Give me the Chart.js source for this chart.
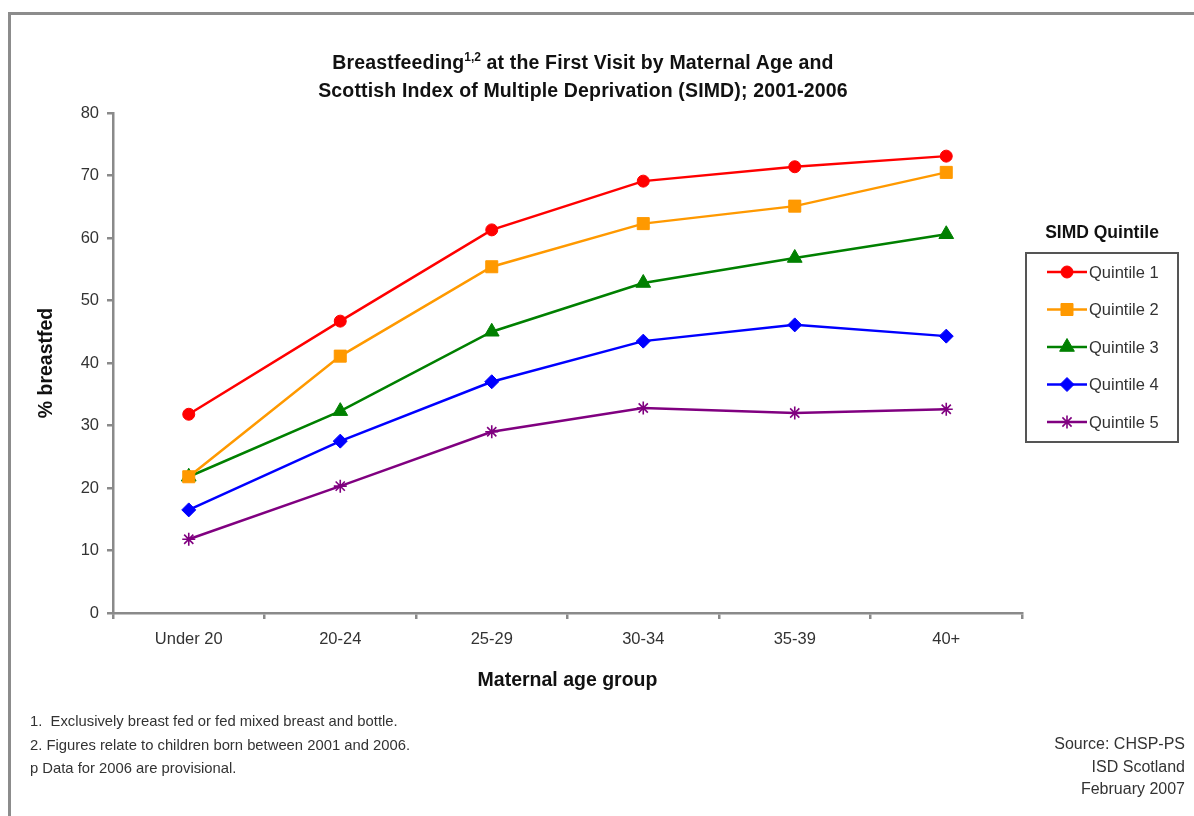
<!DOCTYPE html>
<html lang="en">
<head>
    <meta charset="UTF-8">
    <title>Breastfeeding at the First Visit by Maternal Age and SIMD</title>
    <script src="https://cdn.jsdelivr.net/npm/chart.js"></script>
    <style>
        body { margin: 0; width: 1194px; height: 816px; overflow: hidden; background: #fff; font-family: "Liberation Sans", Arial, sans-serif; color: #111; }
        .frame { position: absolute; left: 8px; top: 12px; width: 1400px; height: 1000px; border: 3px solid #8c8c8c; }
        canvas { position: absolute; left: 0; top: 0; }
        .title { position: absolute; left: 0; width: 1166px; top: 48px; text-align: center; font-weight: bold; font-size: 19.5px; letter-spacing: 0.15px; line-height: 28px; }
        .title sup { font-size: 12px; line-height: 0; vertical-align: 8px; letter-spacing: 0; }
        .legend-title { position: absolute; left: 1022px; width: 160px; top: 222px; text-align: center; font-weight: bold; font-size: 17.5px; }
        .notes { position: absolute; left: 30px; top: 710px; font-size: 14.8px; line-height: 23.5px; color: #333; }
        .source { position: absolute; right: 9px; top: 733px; font-size: 16px; line-height: 22.5px; text-align: right; color: #333; }
    </style>
</head>
<body>
    <div class="frame"></div>
    <canvas id="chart" width="1194" height="816"></canvas>
    <div class="title">Breastfeeding<sup>1,2</sup> at the First Visit by Maternal Age and<br>Scottish Index of Multiple Deprivation (SIMD); 2001-2006</div>
    <div class="legend-title">SIMD Quintile</div>
    <div class="notes">1.&nbsp; Exclusively breast fed or fed mixed breast and bottle.<br>2. Figures relate to children born between 2001 and 2006.<br>p Data for 2006 are provisional.</div>
    <div class="source">Source: CHSP-PS<br>ISD Scotland<br>February 2007</div>

    <script>
        // age groups and % breastfed per SIMD quintile
        const ageGroups = ["Under 20", "20-24", "25-29", "30-34", "35-39", "40+"];
        const quintile1 = [31.8, 46.7, 61.3, 69.1, 71.4, 73.1];
        const quintile2 = [21.8, 41.1, 55.4, 62.3, 65.1, 70.5];
        const quintile3 = [21.8, 32.3, 45.0, 52.8, 56.8, 60.6];
        const quintile4 = [16.5, 27.5, 37.0, 43.5, 46.1, 44.3];
        const quintile5 = [11.8, 20.3, 29.0, 32.8, 32.0, 32.6];
        const yTicks = [0, 10, 20, 30, 40, 50, 60, 70, 80];

        const fontFamily = '"Liberation Sans", Arial, sans-serif';
        const axisColor = '#8a8a8a';

        function series(label, data, color, style, radius) {
            return {
                label: label,
                data: data,
                borderColor: color,
                backgroundColor: color,
                borderWidth: 2.5,
                pointStyle: style,
                pointRadius: radius,
                pointHoverRadius: radius,
                pointBorderWidth: style === 'star' ? 1.6 : 1,
                tension: 0
            };
        }

        // Excel style legend: boxed, line with marker
        const boxedLegend = {
            id: 'boxedLegend',
            afterDraw(chart) {
                const ctx = chart.ctx;
                ctx.save();
                ctx.strokeStyle = '#555';
                ctx.lineWidth = 2;
                ctx.strokeRect(1026, 253, 152, 189);
                chart.data.datasets.forEach((ds, i) => {
                    const y = 272 + i * 37.5;
                    ctx.strokeStyle = ds.borderColor;
                    ctx.fillStyle = ds.backgroundColor;
                    ctx.lineWidth = 2.5;
                    ctx.beginPath();
                    ctx.moveTo(1047, y);
                    ctx.lineTo(1087, y);
                    ctx.stroke();
                    ctx.lineWidth = ds.pointBorderWidth;
                    Chart.helpers.drawPoint(ctx, {
                        pointStyle: ds.pointStyle,
                        radius: ds.pointRadius,
                        rotation: 0,
                        borderWidth: ds.pointBorderWidth
                    }, 1067, y);
                    ctx.fillStyle = '#333';
                    ctx.font = '16.5px ' + fontFamily;
                    ctx.textBaseline = 'middle';
                    ctx.fillText(ds.label, 1089, y + 1);
                });
                ctx.restore();
            }
        };

        const ctx = document.getElementById('chart').getContext('2d');
        new Chart(ctx, {
            type: 'line',
            data: {
                labels: ageGroups,
                datasets: [
                    series('Quintile 1', quintile1, '#ff0000', 'circle', 6),
                    series('Quintile 2', quintile2, '#ff9900', 'rect', 8.5),
                    series('Quintile 3', quintile3, '#008000', 'triangle', 8.5),
                    series('Quintile 4', quintile4, '#0000ff', 'rectRot', 7),
                    series('Quintile 5', quintile5, '#800080', 'star', 6.5)
                ]
            },
            options: {
                responsive: false,
                animation: false,
                layout: { padding: { left: 32, right: 172, top: 113, bottom: 113 } },
                plugins: {
                    legend: { display: false },
                    title: { display: false },
                    tooltip: { enabled: false }
                },
                scales: {
                    x: {
                        offset: true,
                        afterFit: s => { s.height = 90; },
                        grid: { offset: true, drawOnChartArea: false, drawTicks: true, tickLength: 6, color: axisColor, lineWidth: 2.5 },
                        border: { color: axisColor, width: 2.5 },
                        ticks: { padding: 11, color: '#333', font: { family: fontFamily, size: 16.5 } },
                        title: { display: true, text: 'Maternal age group', color: '#111', padding: { top: 0, bottom: 11 }, font: { family: fontFamily, size: 19.5, weight: 'bold' } }
                    },
                    y: {
                        min: 0,
                        max: 80,
                        afterFit: s => { s.width = 81; },
                        afterBuildTicks: s => { s.ticks = yTicks.map(v => ({ value: v })); },
                        grid: { drawOnChartArea: false, drawTicks: true, tickLength: 6, color: axisColor, lineWidth: 2.5 },
                        border: { color: axisColor, width: 2.5 },
                        ticks: { padding: 8, color: '#333', font: { family: fontFamily, size: 16.5 } },
                        title: { display: true, text: '% breastfed', color: '#111', padding: { top: 3, bottom: 3 }, font: { family: fontFamily, size: 19.5, weight: 'bold' } }
                    }
                }
            },
            plugins: [boxedLegend]
        });
    </script>
</body>
</html>
